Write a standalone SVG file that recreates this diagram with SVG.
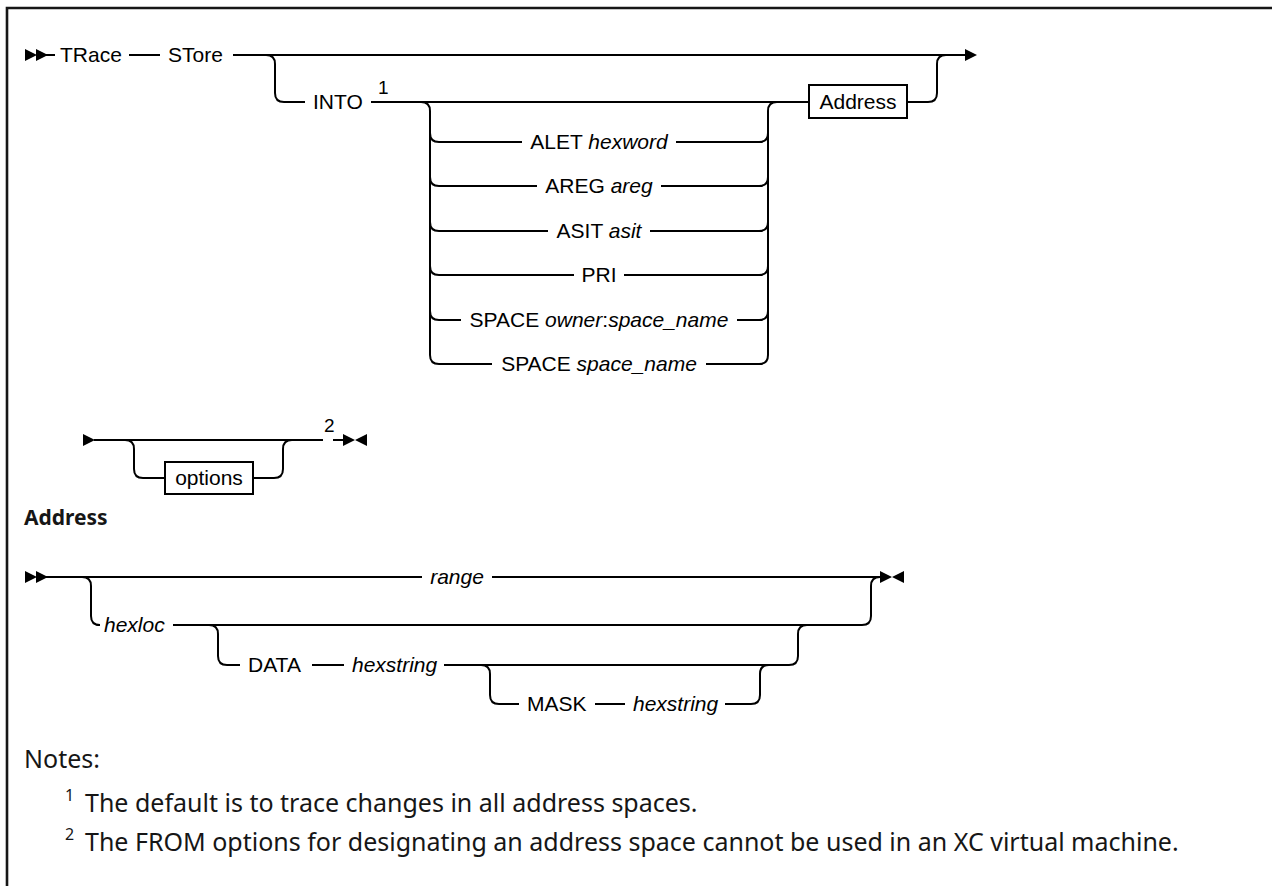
<svg xmlns="http://www.w3.org/2000/svg" width="1272" height="886" viewBox="0 0 1272 886">
<style>
.t{font-family:"Liberation Sans",Arial,sans-serif;font-size:21px;fill:#000}
.i{font-style:italic}
.sup{font-family:"Liberation Sans",Arial,sans-serif;font-size:19px;fill:#000}
.n{font-family:"Noto Sans","Open Sans",sans-serif;font-size:25px;fill:#161616}
.ns{font-family:"Noto Sans","Open Sans",sans-serif;font-size:16px;fill:#161616}
.h{font-family:"Noto Sans","Open Sans",sans-serif;font-size:21px;font-weight:bold;fill:#161616}
.ln{fill:none;stroke:#000;stroke-width:2}
.box{fill:#fff;stroke:#000;stroke-width:2}
.frame{fill:none;stroke:#161616;stroke-width:2.6}
</style>
<defs>
<path id="tri" d="M0,-6 L12,0 L0,6 Z" fill="#000"/>
<g id="dbl"><use href="#tri" x="0"/><use href="#tri" x="11"/></g>
<path id="endm" d="M0,-6 L12,0 L0,6 Z M24,-6 L12,0 L24,6 Z" fill="#000"/>
</defs>
<rect width="1272" height="886" fill="#fff"/>
<path class="frame" d="M7,886 V8 H1272"/>

<g id="connectors">
  <!-- row 1 -->
  <use href="#dbl" x="25" y="55"/>
  <path class="ln" d="M46,55 H55 M129,55 H160 M233,55 H966"/>
  <use href="#tri" x="965" y="55"/>
  <path class="ln" d="M266,55 q9,0 9,9 V93 q0,9 9,9 H305"/>
  <path class="ln" d="M371,102 H809"/>
  <!-- left junction -->
  <path class="ln" d="M421,102 q9,0 9,9 V355 q0,9 9,9 H492"/>
  <!-- right junction -->
  <path class="ln" d="M706,364 H759 q9,0 9,-9 V111 q0,-9 9,-9"/>
  <!-- alternatives -->
  <path class="ln" d="M430,133 q0,9 9,9 H522 M676,142 H759 q9,0 9,-9"/>
  <path class="ln" d="M430,177 q0,9 9,9 H537 M661,186 H759 q9,0 9,-9"/>
  <path class="ln" d="M430,222 q0,9 9,9 H548 M650,231 H759 q9,0 9,-9"/>
  <path class="ln" d="M430,266 q0,9 9,9 H574 M624,275 H759 q9,0 9,-9"/>
  <path class="ln" d="M430,311 q0,9 9,9 H461 M737,320 H759 q9,0 9,-9"/>
  <!-- after Address -->
  <path class="ln" d="M907,102 H928 q9,0 9,-9 V64 q0,-9 9,-9"/>

  <!-- options row -->
  <use href="#tri" x="83" y="440"/>
  <path class="ln" d="M94,440 H323 M333,440 H344"/>
  <path class="ln" d="M125,440 q9,0 9,9 V469 q0,9 9,9 H165 M253,478 H274 q9,0 9,-9 V449 q0,-9 9,-9"/>
  <use href="#endm" x="343" y="440"/>

  <!-- Address row -->
  <use href="#dbl" x="25" y="577"/>
  <path class="ln" d="M46,577 H422 M492,577 H881"/>
  <use href="#endm" x="880" y="577"/>
  <path class="ln" d="M82,577 q9,0 9,9 V616 q0,9 9,9 H96 M173,625 H862 q9,0 9,-9 V586 q0,-9 9,-9"/>
  <path class="ln" d="M209,625 q9,0 9,9 V656 q0,9 9,9 H240 M312,665 H344 M444,665 H789 q9,0 9,-9 V634 q0,-9 9,-9"/>
  <path class="ln" d="M481,665 q9,0 9,9 V695 q0,9 9,9 H519 M595,704 H625 M725,704 H751 q9,0 9,-9 V674 q0,-9 9,-9"/>
</g>

<g id="n-trace"><text class="t" x="60" y="62">TRace</text></g>
<g id="n-store"><text class="t" x="168" y="62">STore</text></g>
<g id="n-into"><text class="t" x="313" y="109">INTO</text><text class="sup" x="378" y="94">1</text></g>
<g id="n-alet"><text class="t" x="599" y="149" text-anchor="middle">ALET <tspan class="i">hexword</tspan></text></g>
<g id="n-areg"><text class="t" x="599" y="193" text-anchor="middle">AREG <tspan class="i">areg</tspan></text></g>
<g id="n-asit"><text class="t" x="599" y="238" text-anchor="middle">ASIT <tspan class="i">asit</tspan></text></g>
<g id="n-pri"><text class="t" x="599" y="282" text-anchor="middle">PRI</text></g>
<g id="n-space1"><text class="t" x="599" y="327" text-anchor="middle">SPACE <tspan class="i">owner</tspan>:<tspan class="i">space_name</tspan></text></g>
<g id="n-space2"><text class="t" x="599" y="371" text-anchor="middle">SPACE <tspan class="i">space_name</tspan></text></g>
<g id="n-address"><rect class="box" x="809" y="85" width="98" height="33"/><text class="t" x="858" y="109" text-anchor="middle">Address</text></g>
<g id="n-options"><rect class="box" x="165" y="462" width="88" height="32"/><text class="t" x="209" y="485" text-anchor="middle">options</text><text class="sup" x="324" y="432">2</text></g>

<g id="n-addr-head"><text class="h" x="24" y="525">Address</text></g>
<g id="n-range"><text class="t i" x="457" y="584" text-anchor="middle">range</text></g>
<g id="n-hexloc"><text class="t i" x="104" y="632">hexloc</text></g>
<g id="n-data"><text class="t" x="248" y="672">DATA</text><text class="t i" x="352" y="672">hexstring</text></g>
<g id="n-mask"><text class="t" x="527" y="711">MASK</text><text class="t i" x="633" y="711">hexstring</text></g>

<g id="notes">
  <text class="n" x="24" y="768">Notes:</text>
  <text class="ns" x="65" y="801">1</text><text class="n" x="85" y="812">The default is to trace changes in all address spaces.</text>
  <text class="ns" x="65" y="840">2</text><text class="n" x="85" y="851">The FROM options for designating an address space cannot be used in an XC virtual machine.</text>
</g>
</svg>
